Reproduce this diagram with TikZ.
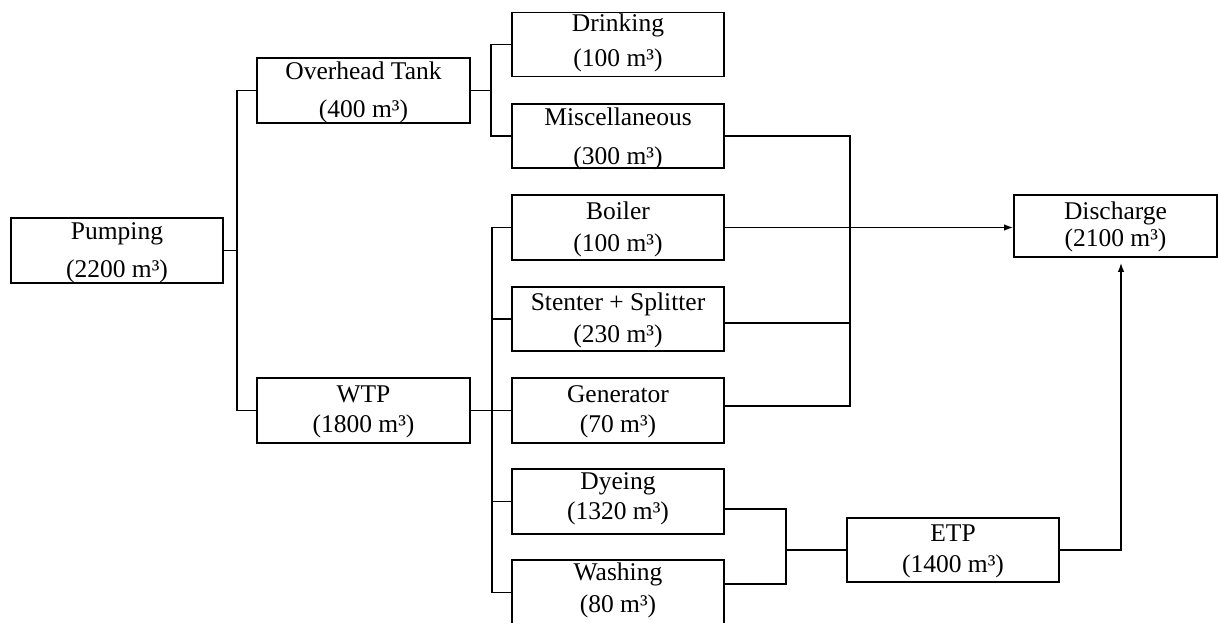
\documentclass[tikz,border=0pt]{standalone}
\usepackage{fontspec}
\setmainfont{Liberation Serif}
\usetikzlibrary{arrows.meta,calc}
\newcommand\flowbox[9]{%
  % #1 name, #2 cx, #3 cy, #4 w, #5 h, #6 line1, #7 line2, #8 off1, #9 off2
  \node[boxstyle, minimum width=#4pt, minimum height=#5pt] (#1) at (#2,#3) {};
  \node[txt] (#1-a) at ($(#1.north)+(0,#8)$) {#6};
  \node[txt] (#1-b) at ($(#1.north)+(0,#9)$) {#7};
}
\begin{document}
\begin{tikzpicture}[x=1pt,y=-1pt,
  boxstyle/.style={draw=black, line width=1.7pt, inner sep=0pt, fill=white},
  txt/.style={anchor=base, inner sep=0pt, font=\fontsize{25.5}{30}\selectfont},
  link/.style={draw=black, line width=1.5pt},
  arr/.style={link, -{Latex[length=9pt,width=6.5pt]}}]
\clip (0,0) rectangle (1218,623);
\fill[white] (0,0) rectangle (1218,623);

\flowbox{pump}{117}{250.5}{212}{65}{Pumping}{(2200 m³)}{22.5}{60}
\flowbox{ovh}{363.5}{90.5}{213}{65}{Overhead Tank}{(400 m³)}{22}{60.5}
\flowbox{wtp}{363.5}{410.5}{213}{65}{WTP}{(1800 m³)}{25}{55}
\flowbox{drink}{618}{44.5}{212}{64}{Drinking}{(100 m³)}{20}{55}
\flowbox{misc}{618}{136}{212}{64}{Miscellaneous}{(300 m³)}{22.5}{61}
\flowbox{boil}{618}{227.5}{212}{65}{Boiler}{(100 m³)}{25.7}{57.3}
\flowbox{stent}{618}{319}{212}{64}{Stenter + Splitter}{(230 m³)}{24.7}{56.3}
\flowbox{gen}{618}{410.5}{212}{65}{Generator}{(70 m³)}{25.3}{55}
\flowbox{dye}{618}{501.5}{212}{65}{Dyeing}{(1320 m³)}{21.7}{51}
\flowbox{wash}{618}{592.5}{212}{65}{Washing}{(80 m³)}{21.7}{53.3}
\flowbox{etp}{953}{550}{212}{64}{ETP}{(1400 m³)}{24}{55}
\flowbox{disc}{1115.5}{226}{203}{62}{Discharge}{(2100 m³)}{25.7}{52.3}

\coordinate (j1) at (237,0);
\coordinate (j2) at (491,0);
\coordinate (j3) at (492,0);
\coordinate (j4) at (850,0);
\coordinate (j5) at (786,0);
\coordinate (j6) at (1121,0);

% Pumping to Overhead Tank and WTP
\draw[link] (pump.east) -- (pump.east -| j1);
\draw[link] (ovh.west) -- (ovh.west -| j1) -- (wtp.west -| j1) -- (wtp.west);
% Overhead Tank to Drinking and Miscellaneous
\draw[link] (ovh.east) -- (ovh.east -| j2);
\draw[link] (drink.west) -- (drink.west -| j2) -- (misc.west -| j2) -- (misc.west);
% WTP to users
\draw[link] (wtp.east) -- (gen.west);
\draw[link] (boil.west) -- (boil.west -| j3) -- (wash.west -| j3) -- (wash.west);
\draw[link] (stent.west) -- (stent.west -| j3);
\draw[link] (dye.west) -- (dye.west -| j3);
% Misc, Stenter, Generator collector
\draw[link] (misc.east) -- (misc.east -| j4) -- ([yshift=4.5pt]gen.east -| j4) -- ([yshift=4.5pt]gen.east);
\draw[link] ([yshift=-4pt]stent.east) -- ([yshift=-4pt]stent.east -| j4);
% Boiler to Discharge
\draw[arr] (boil.east) -- (boil.east -| disc.west);
% Dyeing + Washing to ETP
\draw[link] ([yshift=-7.5pt]dye.east) -- ([yshift=-7.5pt]dye.east -| j5) -- ([yshift=8.5pt]wash.east -| j5) -- ([yshift=8.5pt]wash.east);
\draw[link] (etp.west -| j5) -- (etp.west);
% ETP to Discharge
\draw[arr, shorten >=5pt] (etp.east) -- (etp.east -| j6) -- (j6 |- disc.south);
\end{tikzpicture}
\end{document}
